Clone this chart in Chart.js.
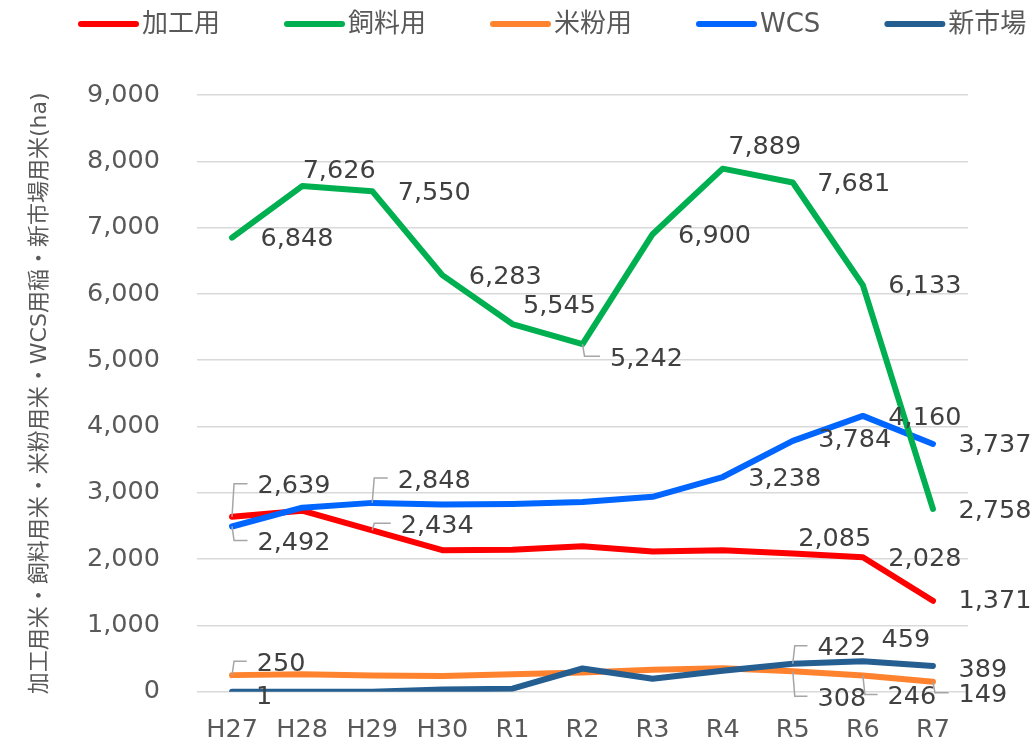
<!DOCTYPE html>
<html>
<head>
<meta charset="utf-8">
<script src="https://cdn.jsdelivr.net/npm/chart.js@4.4.1/dist/chart.umd.min.js"></script>
<style>
  html, body { margin: 0; padding: 0; background: #fff; }
  #wrap { width: 1035px; height: 744px; }
</style>
</head>
<body>
<div id="wrap"><canvas id="riceChart" width="1035" height="744"></canvas></div>
<script>
// values (ha)
const categories = ['H27', 'H28', 'H29', 'H30', 'R1', 'R2', 'R3', 'R4', 'R5', 'R6', 'R7'];
const kakou = [2639, 2730, 2434, 2135, 2140, 2195, 2115, 2135, 2085, 2028, 1371];
const shiryou = [6848, 7626, 7550, 6283, 5545, 5242, 6900, 7889, 7681, 6133, 2758];
const komeko = [250, 262, 245, 235, 262, 288, 332, 355, 308, 246, 149];
const wcs = [2492, 2775, 2848, 2825, 2832, 2860, 2940, 3238, 3784, 4160, 3737];
const shinshijou = [1, 0, 0, 35, 45, 350, 195, 315, 422, 459, 389];
const seriesNames = ['加工用', '飼料用', '米粉用', 'WCS', '新市場'];
const yTitle = '加工用米・飼料用米・米粉用米・WCS用稲・新市場用米(ha)';

const FONT = '"DejaVu Sans", "Noto Sans CJK JP", sans-serif';

// which points carry a value label: [index, dx, dy, leader line]
const labelSpots = [
  [[0, 62, -30, true], [2, 65, -4, true], [8, 42, -14], [9, 62, 2], [10, 62, 1]],
  [[0, 65, 2], [1, 37, -15], [2, 62, 2], [3, 63, 2], [4, 47, -18], [5, 64, 15, true],
   [6, 62, 2], [7, 42, -21], [8, 61, 2], [9, 62, 1], [10, 62, 3]],
  [[0, 49, -11, true], [8, 49, 28, true], [9, 49, 22, true], [10, 50, 14, true]],
  [[0, 62, 17, true], [2, 62, -22, true], [7, 62, 2], [8, 62, 0], [9, 62, 2], [10, 62, 1]],
  [[0, 32, 6], [8, 49, -15, true], [9, 43, -21], [10, 50, 4]]
];

const pointLabels = {
  id: 'pointLabels',
  afterDatasetsDraw(chart) {
    const ctx = chart.ctx;
    ctx.save();
    ctx.font = '25.5px ' + FONT;
    ctx.textAlign = 'center';
    ctx.textBaseline = 'middle';
    chart.data.datasets.forEach((ds, di) => {
      const meta = chart.getDatasetMeta(di);
      (labelSpots[di] || []).forEach(([i, dx, dy, leader]) => {
        const pt = meta.data[i];
        const text = ds.data[i].toLocaleString('en-US');
        const lx = pt.x + dx, ly = pt.y + dy;
        if (leader) {
          const w = ctx.measureText(text).width;
          ctx.strokeStyle = '#A6A6A6';
          ctx.lineWidth = 1.5;
          ctx.beginPath();
          ctx.moveTo(pt.x, pt.y);
          ctx.lineTo(pt.x + 2, ly - 3);
          ctx.lineTo(lx - w / 2 - 10, ly - 3);
          ctx.stroke();
        }
        ctx.fillStyle = '#404040';
        ctx.fillText(text, lx, ly);
      });
    });
    ctx.restore();
  }
};

// legend drawn in one row like the original (it runs off the right edge)
const topLegend = {
  id: 'topLegend',
  afterDraw(chart) {
    const ctx = chart.ctx;
    ctx.save();
    ctx.font = '26px ' + FONT;
    ctx.textBaseline = 'middle';
    let x = 78;
    const y = 24;
    chart.data.datasets.forEach(ds => {
      ctx.strokeStyle = ds.borderColor;
      ctx.lineWidth = 6;
      ctx.lineCap = 'round';
      ctx.beginPath();
      ctx.moveTo(x + 3, y);
      ctx.lineTo(x + 58, y);
      ctx.stroke();
      ctx.fillStyle = '#595959';
      ctx.fillText(ds.label, x + 64, y + 1);
      x += 64 + ctx.measureText(ds.label).width + 64;
    });
    ctx.restore();
  }
};

function line(label, data, color, order) {
  return {
    label: label,
    data: data,
    borderColor: color,
    backgroundColor: color,
    borderWidth: 6,
    borderCapStyle: 'round',
    borderJoinStyle: 'round',
    pointRadius: 0,
    tension: 0,
    order: order
  };
}

const ctx = document.getElementById('riceChart').getContext('2d');
new Chart(ctx, {
  type: 'line',
  data: {
    labels: categories,
    datasets: [
      line(seriesNames[0], kakou, '#FF0000', 2),
      line(seriesNames[1], shiryou, '#00B050', 0),
      line(seriesNames[2], komeko, '#FF822E', 4),
      line(seriesNames[3], wcs, '#0066FF', 1),
      line(seriesNames[4], shinshijou, '#255E91', 3)
    ]
  },
  options: {
    responsive: false,
    animation: false,
    layout: { padding: { top: 95, right: 67, bottom: 0, left: 0 } },
    plugins: {
      legend: { display: false },
      tooltip: { enabled: false }
    },
    scales: {
      x: {
        offset: true,
        grid: { display: false },
        border: { display: false },
        ticks: {
          color: '#595959',
          font: { size: 25.5, family: FONT },
          padding: 15,
          maxRotation: 0,
          autoSkip: false
        },
        afterFit(s) { s.height = 49; }
      },
      y: {
        min: 0,
        max: 9000,
        grid: { color: '#D9D9D9', lineWidth: 1.5, drawTicks: false },
        border: { display: false },
        ticks: {
          stepSize: 1000,
          color: '#595959',
          font: { size: 25.5, family: FONT },
          padding: 37,
          callback: v => v.toLocaleString('en-US')
        },
        title: {
          display: true,
          text: yTitle,
          color: '#595959',
          font: { size: 22, family: FONT },
          padding: { top: 27, bottom: 0 }
        },
        afterFit(s) { s.width = 197; }
      }
    }
  },
  plugins: [pointLabels, topLegend]
});
</script>
</body>
</html>
